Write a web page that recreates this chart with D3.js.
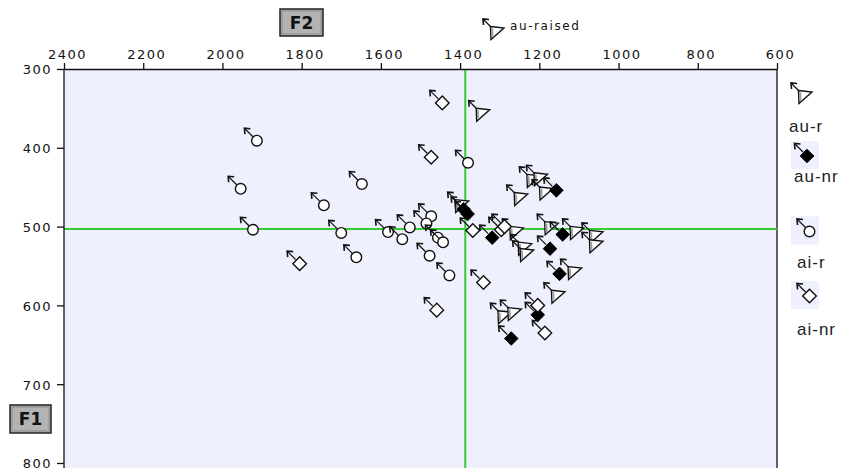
<!DOCTYPE html>
<html>
<head>
<meta charset="utf-8">
<script src="https://cdn.jsdelivr.net/npm/d3@7"></script>
<style>
  body { margin: 0; background: #fff; }
  svg { display: block; }
  .tick text { font-family: "DejaVu Sans", sans-serif; font-size: 13px; letter-spacing: 1.5px; fill: #111; }
  .tick line, .domain { stroke: #111; stroke-width: 1.3; }
</style>
</head>
<body>
<div id="chart"></div>
<script>
// tick values
const F2_TICKS = [2400, 2200, 2000, 1800, 1600, 1400, 1200, 1000, 800, 600];
const F1_TICKS = [300, 400, 500, 600, 700, 800];

// crosshair (means)
const MEAN_F2 = 1387;
const MEAN_F1 = 503;

// series values: [F2, F1]
const AU_R = [
  [1343, 358], [1215, 442], [1197, 440], [1183, 458], [1247, 465], [1396, 474],
  [1258, 508], [1237, 528], [1232, 536], [1170, 502], [1106, 508], [1057, 513],
  [1057, 525], [1111, 559], [1153, 589], [1288, 615], [1263, 611]
];
const AU_NR = [
  [1391, 478], [1381, 484], [1319, 514], [1157, 454], [1141, 510], [1173, 528],
  [1149, 560], [1204, 612], [1271, 642]
];
const AI_R = [
  [1913, 391], [1954, 452], [1648, 446], [1744, 473], [1923, 504], [1700, 508],
  [1582, 507], [1546, 516], [1527, 501], [1473, 487], [1485, 496], [1456, 514],
  [1443, 520], [1662, 539], [1477, 537], [1427, 562], [1380, 419]
];
const AI_NR = [
  [1445, 343], [1473, 412], [1805, 547], [1368, 505], [1296, 504], [1288, 500],
  [1341, 571], [1459, 606], [1204, 600], [1186, 635]
];

const SERIES = ["au-r", "au-nr", "ai-r", "ai-nr"];
const SERIES_DATA = { "au-r": AU_R, "au-nr": AU_NR, "ai-r": AI_R, "ai-nr": AI_NR };

const W = 843, H = 468;
const plot = { left: 64, right: 777, top: 69, bottom: 463 };
const BG = "#eef0fd";

const svg = d3.select("#chart").append("svg")
  .attr("width", W).attr("height", H);

const x = d3.scaleLinear().domain([2400, 600]).range([plot.left, plot.right]);
const y = d3.scaleLinear().domain([300, 800]).range([plot.top, plot.bottom]);

// plot background (runs off the bottom of the window)
svg.append("rect")
  .attr("x", plot.left).attr("y", plot.top)
  .attr("width", plot.right - plot.left).attr("height", H - plot.top + 20)
  .attr("fill", BG);

// right frame
svg.append("line")
  .attr("x1", plot.right).attr("x2", plot.right)
  .attr("y1", plot.top).attr("y2", H + 5)
  .attr("stroke", "#111").attr("stroke-width", 1.3);

// green crosshair
const gCross = svg.append("g").attr("stroke", "#33cc33").attr("stroke-width", 2);
gCross.append("line")
  .attr("x1", x(MEAN_F2)).attr("x2", x(MEAN_F2))
  .attr("y1", plot.top).attr("y2", H + 5);
gCross.append("line")
  .attr("x1", plot.left).attr("x2", plot.right)
  .attr("y1", y(MEAN_F1)).attr("y2", y(MEAN_F1));

// axes
const xAxisG = svg.append("g")
  .attr("transform", `translate(0,${plot.top})`)
  .call(d3.axisTop(x).tickValues(F2_TICKS).tickSize(6).tickSizeOuter(0).tickFormat(d3.format("d")));
xAxisG.selectAll(".tick text").attr("dx", 3).attr("dy", -1);

const yAxisG = svg.append("g")
  .attr("transform", `translate(${plot.left},0)`)
  .call(d3.axisLeft(y).tickValues(F1_TICKS).tickSize(7).tickSizeOuter(0).tickFormat(d3.format("d")));
yAxisG.select(".domain").attr("d", `M0,${plot.top}V${H + 5}`);
yAxisG.selectAll(".tick text").attr("dx", -2).attr("dy", "0.38em");

// axis title boxes
function titleBox(label, bx, by, bw, bh) {
  const g = svg.append("g");
  g.append("rect").attr("x", bx).attr("y", by).attr("width", bw).attr("height", bh)
    .attr("fill", "#b3b3b3").attr("stroke", "#222").attr("stroke-width", 1.5);
  g.append("rect").attr("x", bx + 2).attr("y", by + 2).attr("width", bw - 4).attr("height", bh - 4)
    .attr("fill", "none").attr("stroke", "#8a8a8a").attr("stroke-width", 1);
  g.append("text").attr("x", bx + bw / 2).attr("y", by + bh / 2 + 6)
    .attr("text-anchor", "middle")
    .style("font-family", "DejaVu Sans, sans-serif").style("font-weight", "bold")
    .style("font-size", "17px").attr("fill", "#111").text(label);
}
titleBox("F2", 280, 9, 43, 27);
titleBox("F1", 10, 405, 41, 28);

// marker drawing
const TRI = "M-6.5,-6.5L7,-5L-6,6.5Z";
const DIA = "M0,-6.8L6.8,0L0,6.8L-6.8,0Z";

function drawArrow(g, tx, ty) {
  // shaft from marker towards upper left, with open head
  g.append("line").attr("x1", -4).attr("y1", -4).attr("x2", tx).attr("y2", ty)
    .attr("stroke", "#111").attr("stroke-width", 1.2);
  g.append("path")
    .attr("d", `M${tx + 6},${ty + 0.5}L${tx},${ty}L${tx + 0.5},${ty + 6}`)
    .attr("fill", "none").attr("stroke", "#111").attr("stroke-width", 1.6);
}

function drawMarker(g, type) {
  if (type === "au-r") {
    drawArrow(g, -14, -14);
    g.append("path").attr("d", TRI).attr("fill", "#fff").attr("stroke", "#111").attr("stroke-width", 1.4);
    g.append("line").attr("x1", -4.8).attr("y1", -4.6).attr("x2", -4.5).attr("y2", 3.8)
      .attr("stroke", "#a0a0a0").attr("stroke-width", 2);
  } else if (type === "au-nr") {
    drawArrow(g, -12.5, -12.5);
    g.append("path").attr("d", DIA).attr("fill", "#000").attr("stroke", "#000").attr("stroke-width", 1);
  } else if (type === "ai-r") {
    drawArrow(g, -12.5, -12.5);
    g.append("circle").attr("r", 5.3).attr("fill", "#fff").attr("stroke", "#111").attr("stroke-width", 1.4);
  } else {
    drawArrow(g, -12.5, -12.5);
    g.append("path").attr("d", DIA).attr("fill", "#fff").attr("stroke", "#111").attr("stroke-width", 1.4);
  }
}

const gPoints = svg.append("g");
SERIES.forEach(name => {
  gPoints.selectAll(null)
    .data(SERIES_DATA[name])
    .join("g")
      .attr("transform", d => `translate(${x(d[0])},${y(d[1])})`)
      .each(function () { drawMarker(d3.select(this), name); });
});

// top legend (au-raised)
const gTop = svg.append("g").attr("transform", "translate(497,33)");
drawMarker(gTop, "au-r");
svg.append("text").attr("x", 510).attr("y", 30)
  .style("font-family", "DejaVu Sans, sans-serif").style("font-size", "12px")
  .style("letter-spacing", "1.6px").attr("fill", "#111").text("au-raised");

// right legend
const legendItems = [
  { name: "au-r",  mx: 805,   my: 97,    bg: false, tx: 789, ty: 132 },
  { name: "au-nr", mx: 807,   my: 156,   bg: true,  tx: 794, ty: 182 },
  { name: "ai-r",  mx: 809.5, my: 231.5, bg: true,  tx: 797, ty: 268 },
  { name: "ai-nr", mx: 809.5, my: 296,   bg: true,  tx: 797, ty: 335 }
];
legendItems.forEach(it => {
  if (it.bg) {
    svg.append("rect").attr("x", 791).attr("y", it.my - 15).attr("width", 28).attr("height", 28)
      .attr("fill", BG);
  }
  const g = svg.append("g").attr("transform", `translate(${it.mx},${it.my})`);
  drawMarker(g, it.name);
  svg.append("text").attr("x", it.tx).attr("y", it.ty)
    .style("font-family", "Liberation Sans, Arial, sans-serif").style("font-size", "17px")
    .style("letter-spacing", "1px").attr("fill", "#222").text(it.name);
});
</script>
</body>
</html>
